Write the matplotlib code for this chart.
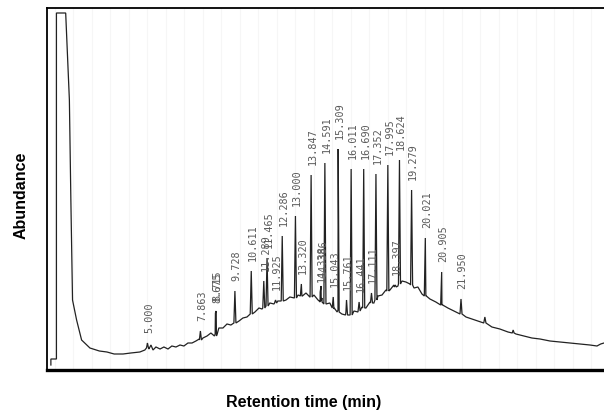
#!/usr/bin/env python3
"""Chromatogram (abundance vs retention time) with labelled peaks."""

import matplotlib

matplotlib.use("Agg")
import matplotlib.pyplot as plt

# Baseline trace: retention time (min), abundance (arb. units)
base_t = [
    -0.22, -0.22, 0.08, 0.08, 0.58, 0.78, 0.86, 0.95, 1.17, 1.44, 1.89, 2.40, 2.81, 3.20,
    3.68, 4.10, 4.59, 4.86, 4.97, 5.08, 5.19, 5.30, 5.46, 5.68, 5.89, 6.11, 6.32, 6.54,
    6.76, 6.97, 7.19, 7.41, 7.62, 7.80, 8.00, 8.22, 8.43, 8.86, 9.08, 9.30, 9.51, 9.95,
    10.16, 10.38, 10.81, 11.03, 11.19, 11.41, 11.62, 11.84, 12.05, 12.49, 12.70, 12.92,
    13.14, 13.35, 13.57, 13.78, 14.00, 14.22, 14.43, 14.65, 14.86, 15.08, 15.30, 15.51,
    15.73, 15.95, 16.16, 16.38, 16.59, 16.81, 17.03, 17.24, 17.46, 17.68, 17.89, 18.11,
    18.32, 18.54, 18.76, 18.97, 19.19, 19.41, 19.62, 19.84, 20.05, 20.27, 20.59, 20.92,
    21.24, 21.57, 21.89, 22.22, 22.54, 22.86, 23.18, 23.24, 23.30, 23.62, 24.05, 24.49,
    24.72, 24.77, 24.82, 24.92, 25.35, 25.78, 26.22, 26.76, 27.30, 27.84, 28.38, 28.92,
    29.30, 29.50, 29.68,
]
base_a = [
    5, 11, 11, 357, 357, 270, 170, 70, 50, 30, 22, 19, 18, 16,
    16, 17, 18, 20, 24, 21, 25, 20, 23, 21, 23, 21, 24, 23,
    25, 24, 27, 27, 29, 31, 32, 34, 37, 42, 42, 46, 45, 49,
    52, 53, 58, 62, 61, 64, 67, 66, 69, 70, 73, 72,
    75, 74, 77, 73, 75, 70, 72, 66, 67, 61, 60, 56,
    58, 55, 59, 58, 63, 62, 68, 67, 74, 75, 80, 80,
    85, 84, 89, 88, 86, 82, 83, 76, 74, 71, 68, 65,
    62, 59, 56, 53, 51, 49, 47, 53, 47, 43, 41, 38,
    37, 40, 37, 36, 34, 32, 31, 29, 28, 27, 26, 25,
    24, 26, 27,
]

# Labelled peaks: retention time, apex abundance, foot abundance
peak_t = [
    5.000, 7.863, 8.675, 8.715, 9.728, 10.611, 11.289, 11.465, 11.925, 12.286, 13.000,
    13.320, 13.847, 14.338, 14.386, 14.591, 15.043, 15.309, 15.761, 16.011, 16.441,
    16.690, 17.111, 17.352, 17.995, 18.397, 18.624, 19.279, 20.021, 20.905, 21.950,
]
peak_apex = [
    27, 39, 57, 59, 79, 99, 89, 112, 70, 134, 154,
    86, 195, 78, 84, 207, 73, 221, 70, 201, 68,
    201, 77, 196, 205, 85, 210, 180, 132, 98, 71,
]
peak_foot = [
    22, 30, 34, 36, 47, 56, 62, 64, 67, 69, 72,
    74, 73, 69, 68, 66, 62, 58, 55, 55, 59,
    62, 67, 70, 79, 83, 86, 85, 74, 65, 56,
]
peak_labels = [
    "5.000", "7.863", "8.675", "8.715", "9.728", "10.611", "11.289", "11.465", "11.925",
    "12.286", "13.000", "13.320", "13.847", "14.338", "14.386", "14.591", "15.043",
    "15.309", "15.761", "16.011", "16.441", "16.690", "17.111", "17.352", "17.995",
    "18.397", "18.624", "19.279", "20.021", "20.905", "21.950",
]

half_w = 0.055  # half width of a peak spike, minutes

pts = list(zip(base_t, base_a))
for t, top, foot in zip(peak_t, peak_apex, peak_foot):
    pts += [(t - half_w, foot), (t, top), (t + half_w, foot)]
# keep the original order of the solvent front (duplicate times there)
head = pts[:5]
rest = sorted(pts[5:], key=lambda p: p[0])
xs = [p[0] for p in head + rest]
ys = [p[1] for p in head + rest]

fig = plt.figure(figsize=(6.04, 4.18), dpi=100)
ax = fig.add_axes([47 / 604, 48 / 418, 557 / 604, 362 / 418])

ax.plot(xs, ys, color="#222222", lw=0.9, solid_joinstyle="miter")

for t, top, lbl in zip(peak_t, peak_apex, peak_labels):
    ax.annotate(lbl, (t, top), xytext=(1.2, 7.5), textcoords="offset points",
                rotation=90, ha="center", va="bottom", fontsize=7.3,
                family="DejaVu Sans Mono", color="#5a5a5a")

ax.set_xlim(-0.43, 29.68)
ax.set_ylim(0, 362)
ax.set_xticks(range(0, 30))
ax.grid(axis="x", color="#f6f6f6", lw=0.8)
ax.set_axisbelow(True)
ax.tick_params(length=0, labelbottom=False, labelleft=False)
ax.spines["right"].set_visible(False)
ax.spines["left"].set_linewidth(1.3)
ax.spines["top"].set_linewidth(1.3)
ax.spines["bottom"].set_linewidth(2.4)

fig.text(21 / 604, (418 - 195) / 418, "Abundance", rotation=90, ha="center", va="center",
         fontsize=11.5, fontweight="bold", family="Liberation Sans")
fig.text(304 / 604, (418 - 403) / 418, "Retention time (min)", ha="center", va="center",
         fontsize=11.5, fontweight="bold", family="Liberation Sans")

fig.savefig("out.png", dpi=100)
